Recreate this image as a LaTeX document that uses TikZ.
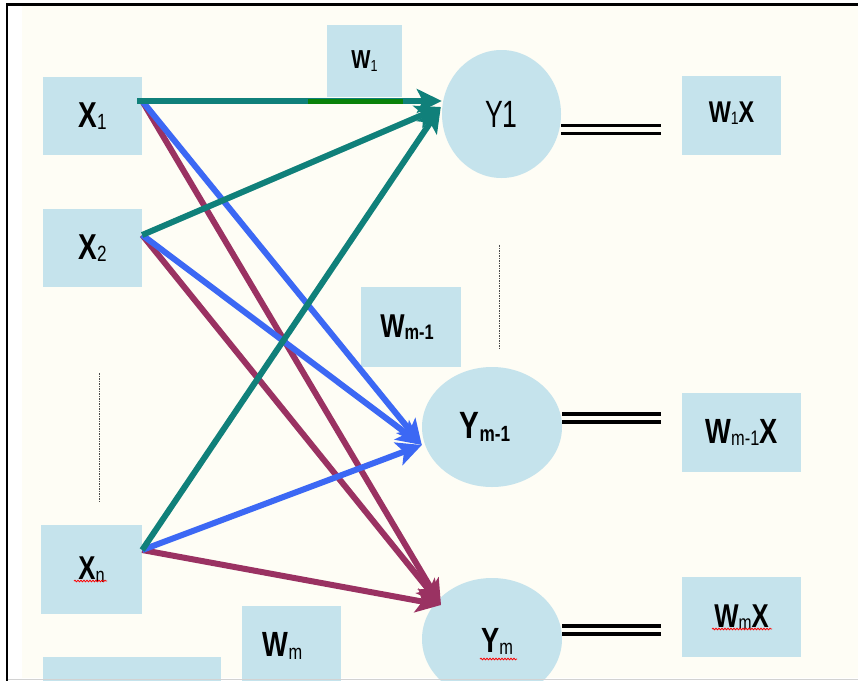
\documentclass[tikz,border=0pt]{standalone}
\usepackage{fontspec}
\newfontfamily\nf[FakeStretch=0.78]{Liberation Sans}
\newfontfamily\nfy[FakeStretch=0.7]{Liberation Sans}
\usetikzlibrary{arrows.meta,decorations.pathmorphing,shapes.geometric}
\definecolor{boxc}{HTML}{C5E3EC}
\definecolor{bgc}{HTML}{FEFDF5}
\definecolor{tealc}{HTML}{10807A}
\definecolor{bluec}{HTML}{3C68F4}
\definecolor{maroonc}{HTML}{9A3262}
\definecolor{greenc}{HTML}{0A820A}
\newcommand{\bt}[1]{\fontsize{#1}{#1}\selectfont\nf\bfseries}
\newcommand{\mysub}[2]{\raisebox{-2.5pt}{\fontsize{#1}{#1}\selectfont #2}}
\begin{document}
\begin{tikzpicture}[x=1pt,y=-1pt,
  box/.style n args={2}{rectangle,fill=boxc,inner sep=0pt,minimum width=#1pt,minimum height=#2pt},
  oval/.style n args={2}{ellipse,fill=boxc,inner sep=0pt,minimum width=#1pt,minimum height=#2pt},
  arr/.style={line width=6pt,-{Stealth[length=25pt,width=24pt,inset=6pt]}},
  dbl/.style={black,line width=3.5pt},
  dotline/.style={gray!60!black,line width=1pt,dash pattern=on 1.5pt off 1pt},
  squig/.style={red,line width=0.8pt,decorate,decoration={snake,amplitude=0.8pt,segment length=3pt}}]
\useasboundingbox (0,0) rectangle (858,680);
\fill[white] (0,0) rectangle (858,680);
\fill[bgc] (22,6) rectangle (858,678);
% boxes
\node[box={99}{78}] (x1) at (92.5,116) {\bt{36}X\mysub{22}{\mdseries 1}};
\node[box={99}{78}] (x2) at (92.5,248) {\bt{36}X\mysub{22}{\mdseries 2}};
\node[box={101}{89}] (xn) at (91.5,569.5) {\bt{33}X\mysub{21}{\mdseries n}};
\node[box={178}{30}] (bl) at (132,672) {};
\node[box={99}{80}] (wm) at (291.5,646) {\hspace*{-18pt}\bt{35}W\mysub{21}{\mdseries m}};
\node[box={75}{72}] (w1) at (364.5,61) {\bt{26}W\mysub{16}{\mdseries 1}};
\node[box={100}{80}] (wm1) at (411,327) {\hspace*{-8pt}\bt{33}W\mysub{21}{m-1}};
\node[oval={119}{128}] (y1) at (501.5,114) {\fontsize{38}{38}\selectfont\nfy Y1};
\node[oval={140}{120}] (ym1) at (492,427) {\hspace*{-14pt}\bt{38}Y\mysub{22}{m-1}};
\node[oval={140}{122}] (ym) at (492,639) {\hspace*{10pt}\raisebox{-13pt}[0pt][0pt]{\bt{35}Y\mysub{21}{\mdseries m}}};
\node[box={99}{79}] (w1x) at (731.5,115.5) {\raisebox{-6.5pt}[0pt][0pt]{\bt{30}W\mysub{18}{\mdseries 1}X}};
\node[box={119}{79}] (wm1x) at (741.5,432.5) {\bt{35}W\mysub{21}{\mdseries m-1}X};
\node[box={119}{80}] (wmx) at (741.5,617) {\raisebox{-10pt}[0pt][0pt]{\bt{33}W\mysub{20}{\mdseries m}X}};
% anchor points
\coordinate (s1) at ([yshift=15pt]x1.east);
\coordinate (s2) at ([yshift=13pt]x2.east);
\coordinate (sn) at ([yshift=19.5pt]xn.east);
\coordinate (t1h) at ([yshift=13pt]y1.west);
\coordinate (t1) at ([shift={(-1pt,7pt)}]y1.west);
\coordinate (tm1) at ([yshift=-18pt]ym1.west);
\coordinate (tm) at ([shift={(-51pt,34pt)}]ym.center);
\coordinate (g1) at (308,101);
\coordinate (g2) at (403,101);
% connectors
\draw[arr,maroonc] (s1) -- (tm);
\draw[arr,maroonc] (s2) -- (tm);
\draw[arr,maroonc] (sn) -- (tm);
\draw[arr,bluec] (s1) -- (tm1);
\draw[arr,bluec] (s2) -- (tm1);
\draw[arr,bluec] (sn) -- (tm1);
\draw[arr,tealc] (s2) -- (t1);
\draw[arr,tealc] (sn) -- (t1);
\draw[arr,tealc] ([xshift=-5pt]s1) -- (t1h);
\draw[greenc,line width=5pt] (g1) -- (g2);
% double lines
\draw[dbl] ([yshift=-11.5pt]y1.east) -- ++(100,0);
\draw[dbl] ([yshift=-19.5pt]y1.east) -- ++(100,0);
\draw[dbl] ([yshift=13pt]ym1.east) -- ++(99,0);
\draw[dbl] ([yshift=5pt]ym1.east) -- ++(99,0);
\draw[dbl] ([yshift=13pt]ym.east) -- ++(99,0);
\draw[dbl] ([yshift=5pt]ym.east) -- ++(99,0);
% dotted lines
\draw[dotline] (99,373) -- (99,501);
\draw[dotline] (499,245) -- (499,349);
% spell-check squiggles
\draw[squig] (74,581) -- (107,581);
\draw[squig] (480,659) -- (517,659);
\draw[squig] (712,629) -- (772,629);
% frame
\draw[black,line width=2.2pt] (7,681) -- (7,4.5) -- (858,4.5);
\draw[gray!35,line width=1.5pt] (8,679.5) -- (858,679.5);
\end{tikzpicture}
\end{document}
